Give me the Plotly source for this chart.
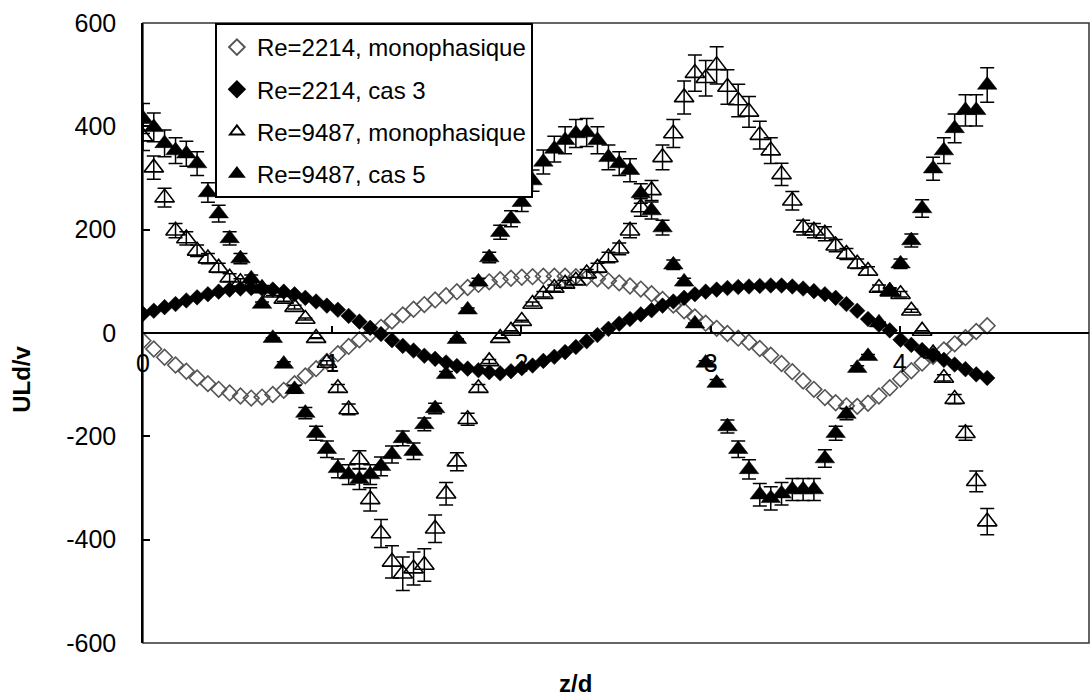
import plotly.graph_objects as go

z = [0.000, 0.057, 0.114, 0.172, 0.229, 0.286, 0.343, 0.400, 0.458, 0.515,
     0.572, 0.629, 0.686, 0.744, 0.801, 0.858, 0.915, 0.972, 1.030, 1.087,
     1.144, 1.201, 1.258, 1.316, 1.373, 1.430, 1.487, 1.544, 1.602, 1.659,
     1.716, 1.773, 1.830, 1.888, 1.945, 2.002, 2.059, 2.116, 2.174, 2.231,
     2.288, 2.345, 2.402, 2.460, 2.517, 2.574, 2.631, 2.688, 2.746, 2.803,
     2.860, 2.917, 2.974, 3.032, 3.089, 3.146, 3.203, 3.260, 3.318, 3.375,
     3.432, 3.489, 3.546, 3.604, 3.661, 3.718, 3.775, 3.832, 3.890, 3.947,
     4.004, 4.061, 4.118, 4.176, 4.233, 4.290, 4.347, 4.404, 4.462]

re2214_mono = [-15, -31, -47, -62, -74, -87, -98, -109, -116, -122,
               -126, -124, -119, -111, -98, -83, -69, -55, -40, -26,
               -13, -2, 11, 23, 35, 46, 55, 64, 72, 80,
               88, 94, 99, 103, 106, 108, 109, 110, 110, 110,
               109, 107, 105, 101, 97, 91, 85, 76, 65, 54,
               43, 31, 19, 9, -1, -10, -18, -30, -43, -59,
               -75, -93, -109, -125, -135, -141, -142, -136, -122, -106,
               -89, -73, -58, -45, -33, -21, -9, 3, 14]

re2214_cas3 = [37, 43, 50, 56, 63, 69, 75, 80, 84, 86,
               87, 86, 84, 80, 75, 68, 61, 53, 45, 33,
               22, 10, -2, -14, -25, -34, -44, -50, -57, -64,
               -69, -72, -76, -78, -74, -68, -63, -54, -46, -37,
               -27, -16, -4, 8, 18, 27, 36, 44, 53, 61,
               68, 75, 80, 84, 87, 89, 90, 91, 92, 92,
               90, 86, 81, 75, 68, 56, 43, 27, 16, 5,
               -13, -23, -33, -43, -52, -61, -70, -80, -87]

re9487_mono = [380, 320, 262, 198, 183, 159, 144, 126, 107, 98,
               92, 86, 78, 66, 50, 27, -10, -58, -107, -148,
               -245, -322, -388, -443, -466, -456, -449, -379, -311, -249,
               -167, -107, -55, -10, 4, 23, 56, 75, 87, 95,
               101, 115, 126, 146, 163, 198, 243, 276, 340, 386,
               456, 503, 493, 518, 476, 450, 428, 383, 353, 307,
               256, 204, 198, 192, 169, 153, 134, 120, 87, 80,
               75, 43, 4, -40, -87, -128, -194, -287, -365]

re9487_cas5 = [415, 398, 367, 353, 347, 328, 272, 231, 183, 144,
               105, 56, -10, -60, -109, -155, -194, -225, -262, -274,
               -283, -274, -258, -235, -204, -229, -177, -146, -80, -12,
               45, 99, 146, 195, 221, 253, 295, 331, 356, 373,
               386, 388, 373, 340, 328, 315, 270, 237, 204, 132,
               99, 18, -58, -97, -181, -225, -264, -313, -320, -311,
               -303, -303, -303, -243, -194, -157, -68, -45, 20, 82,
               134, 179, 241, 318, 353, 396, 431, 431, 480]

names = ["Re=2214, monophasique", "Re=2214, cas 3",
         "Re=9487, monophasique", "Re=9487, cas 5"]
x_ticks = [0, 1, 2, 3, 4, 5]
y_ticks = [-600, -400, -200, 0, 200, 400, 600]
err_pct = 7

FONT = "Liberation Sans, Arial, sans-serif"

fig = go.Figure()
fig.add_trace(go.Scatter(
    x=z, y=re2214_mono, mode="markers", name=names[0], legendgroup="a",
    marker=dict(symbol="diamond-open", size=12, color="#555555",
                line=dict(width=1.6, color="#555555"))))
fig.add_trace(go.Scatter(
    x=z, y=re2214_cas3, mode="markers", name=names[1], legendgroup="b",
    marker=dict(symbol="diamond", size=12, color="black",
                line=dict(width=0.5, color="black"))))
fig.add_trace(go.Scatter(
    x=z, y=re9487_mono, mode="markers", name=names[2], legendgroup="c",
    marker=dict(symbol="triangle-up-open", size=17, color="black",
                line=dict(width=1.6, color="black")),
    error_y=dict(type="percent", value=err_pct, color="black",
                 thickness=1.5, width=7)))
fig.add_trace(go.Scatter(
    x=z, y=re9487_cas5, mode="markers", name=names[3], legendgroup="d",
    marker=dict(symbol="triangle-up", size=17, color="black",
                line=dict(width=0.5, color="black")),
    error_y=dict(type="percent", value=err_pct, color="black",
                 thickness=1.5, width=7)))

fig.update_layout(
    width=1092, height=698,
    margin=dict(l=143, r=3, t=23, b=55),
    paper_bgcolor="white", plot_bgcolor="white",
    font=dict(family=FONT, color="black"),
    showlegend=True,
    legend=dict(x=0.076, y=1.0, xanchor="left", yanchor="top",
                bgcolor="white", bordercolor="black", borderwidth=2,
                font=dict(family=FONT, size=24, color="black"),
                tracegroupgap=8, itemsizing="constant"),
    xaxis=dict(range=[0, 5], tickvals=x_ticks, ticktext=[str(v) for v in x_ticks],
               anchor="free", position=0.5, showline=True, linecolor="black",
               linewidth=2, ticks="inside", ticklen=6, tickwidth=1.5,
               tickcolor="black", showgrid=False, zeroline=False,
               tickfont=dict(family=FONT, size=25, color="black"),
               ticklabelstandoff=8),
    yaxis=dict(range=[-600, 600], tickvals=y_ticks,
               ticktext=[str(v) for v in y_ticks],
               showline=True, linecolor="black", linewidth=1.5,
               ticks="inside", ticklen=7, tickwidth=1.5, tickcolor="black",
               showgrid=False, zeroline=False,
               tickfont=dict(family=FONT, size=25, color="black"),
               ticklabelstandoff=20),
    shapes=[dict(type="rect", xref="paper", yref="paper", x0=0, y0=0, x1=1, y1=1,
                 line=dict(color="#333333", width=1.5), layer="below")],
    annotations=[
        dict(text="<b>z/d</b>", xref="paper", yref="paper", x=0.4567, y=-0.066,
             showarrow=False, font=dict(family=FONT, size=24, color="black"),
             xanchor="center", yanchor="middle"),
        dict(text="<b>ULd/v</b>", xref="paper", yref="paper", x=-0.128, y=0.426,
             textangle=-90, showarrow=False,
             font=dict(family=FONT, size=24, color="black"),
             xanchor="center", yanchor="middle"),
    ],
)

fig.write_html("out.html", config={"displayModeBar": False},
               post_script="document.body.style.margin='0';document.body.style.padding='0';")
